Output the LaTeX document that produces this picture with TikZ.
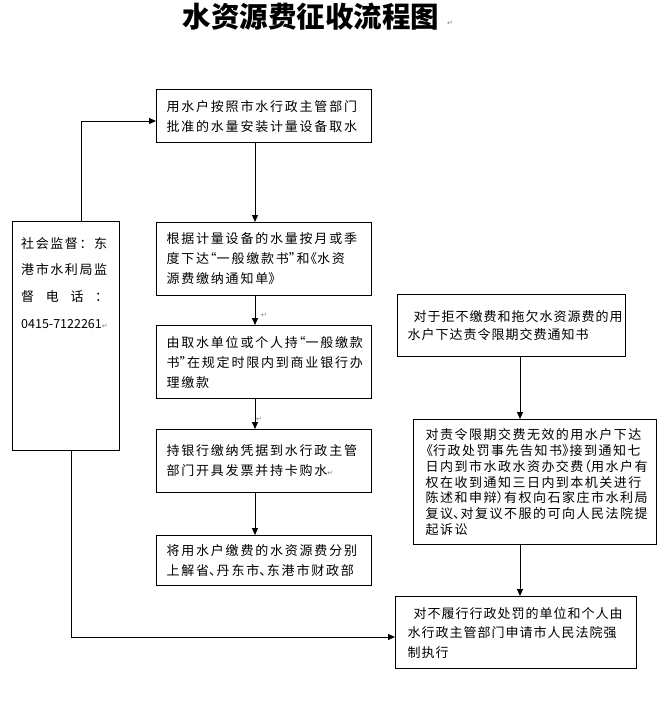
\documentclass[tikz,border=0pt]{standalone}
\usepackage{fontspec}
\usetikzlibrary{arrows.meta}
\newfontfamily\cjkT{Noto Sans CJK SC}
\newfontfamily\cjkM[LetterSpace=13.8]{Noto Sans CJK SC}
\newfontfamily\cjkR[LetterSpace=11.5]{Noto Sans CJK SC}
\newfontfamily\cjkL[LetterSpace=12.3]{Noto Sans CJK SC}
\newfontfamily\cjkS[LetterSpace=7.7]{Noto Sans CJK SC}
\newfontfamily\symf{DejaVu Sans}
\newcommand\opP[1]{\makebox[7.6pt][r]{#1}}
\newcommand\clP[1]{\makebox[7.6pt][l]{#1}}
\newcommand\pmark{{\symf\fontsize{7}{7}\selectfont\textcolor{gray}{↵}}}
\begin{document}
\begin{tikzpicture}[x=1pt,y=-1pt,
  box/.style={draw, line width=1.1pt, rectangle, anchor=north west, align=left, inner ysep=0pt},
  mid/.style={box, minimum width=215pt, inner xsep=10pt, text width=195pt, font=\cjkM\fontsize{13}{20}\selectfont},
  arr/.style={line width=1pt, -{Triangle[length=7pt,width=6pt]}},
  pm/.style={inner sep=0pt}]
\useasboundingbox (0,0) rectangle (665,704);
% title
\node[inner sep=0pt, font=\cjkT\bfseries\fontsize{28.5}{28.5}\selectfont] (title) at (311,17) {水资源费征收流程图};
\node[pm] (pm1) at (450,23) {\pmark};
% centre column
\node[mid, minimum height=53pt] (b1) at (156,89) {用水户按照市水行政主管部门\\批准的水量安装计量设备取水};
\node[mid, minimum height=73pt] (b2) at (156,222) {根据计量设备的水量按月或季\\度下达\opP{“}一般缴款书\clP{”}和\opP{《}水资\\源费缴纳通知单\clP{》}};
\node[mid, minimum height=73pt] (b3) at (156,325) {由取水单位或个人持\opP{“}一般缴款\\书\clP{”}在规定时限内到商业银行办\\理缴款};
\node[mid, minimum height=63pt] (b4) at (156,429) {持银行缴纳凭据到水行政主管\\部门开具发票并持卡购水\pmark};
\node[mid, minimum height=50pt] (b5) at (156,535) {将用水户缴费的水资源费分别\\上解省\clP{、}丹东市\clP{、}东港市财政部};
% left box
\node[draw, line width=1.1pt, rectangle, anchor=north west, minimum width=107pt, minimum height=229pt] (lb) at (12,221) {};
\node[anchor=north west, inner sep=0pt, align=left, font=\cjkL\fontsize{13}{26.7}\selectfont] (lbt) at (21,237)
  {社会监督：东\\港市水利局监\\\hbox to 87pt{督\hfill 电\hfill 话\hfill ：}\\{\cjkT\fontsize{12.5}{12.5}\selectfont 0415-7122261}\pmark};
% right column
\node[box, minimum width=228pt, minimum height=62pt, inner xsep=10pt, text width=208pt, font=\cjkS\fontsize{13}{18}\selectfont] (ra) at (397,294)
  {\hspace*{6pt}对于拒不缴费和拖欠水资源费的用\\水户下达责令限期交费通知书};
\node[box, minimum width=243pt, minimum height=125pt, inner xsep=12pt, text width=219pt, font=\cjkR\fontsize{13}{15.8}\selectfont] (rb) at (413,419)
  {对责令限期交费无效的用水户下达\\\opP{《}行政处罚事先告知书\clP{》}接到通知七\\日内到市水政水资办交费\opP{（}用水户有\\权在收到通知三日内到本机关进行\\陈述和申辩\clP{）}有权向石家庄市水利局\\复议\clP{、}对复议不服的可向人民法院提\\起诉讼};
\node[box, minimum width=241pt, minimum height=72pt, inner xsep=12pt, text width=217pt, font=\cjkS\fontsize{13}{19.5}\selectfont] (rc) at (395,596)
  {\hspace*{6pt}对不履行行政处罚的单位和个人由\\水行政主管部门申请市人民法院强\\制执行};
% connectors
\coordinate (cx) at (255,0);
\coordinate (rx) at (520,0);
\coordinate (lu) at (81,121);
\coordinate (ld) at (71,637);
\draw[arr] (b1.south -| cx) -- (b2.north -| cx);
\draw[arr] (b2.south -| cx) -- (b3.north -| cx);
\draw[arr] (b3.south -| cx) -- (b4.north -| cx);
\draw[arr] (b4.south -| cx) -- (b5.north -| cx);
\draw[arr] (ra.south -| rx) -- (rb.north -| rx);
\draw[arr] (rb.south -| rx) -- (rc.north -| rx);
\draw[arr] (lb.north -| lu) |- (b1.west |- lu);
\draw[arr] (lb.south -| ld) |- (rc.west |- ld);
\node[pm] (pm2) at (264,315) {\pmark};
\node[pm] (pm3) at (259,419) {\pmark};
\end{tikzpicture}
\end{document}
